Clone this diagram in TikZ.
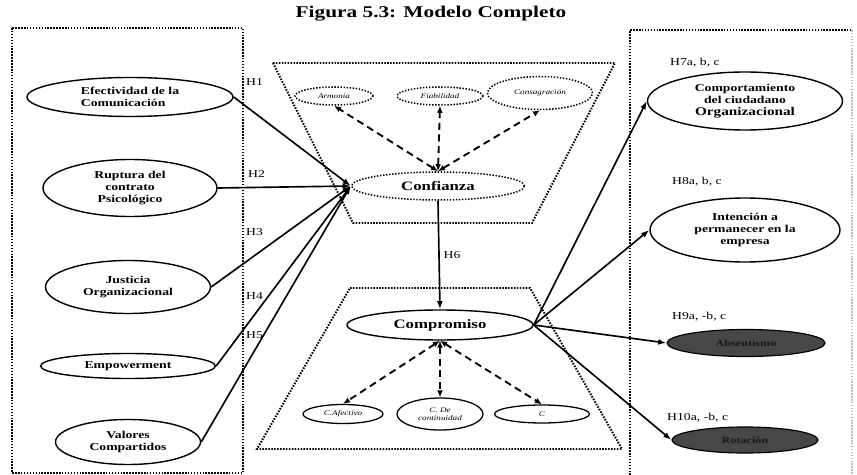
\documentclass[tikz,border=0pt]{standalone}
\usepackage{fontspec}
\setmainfont{Liberation Serif}[FakeStretch=1.3]
\usetikzlibrary{shapes.geometric,arrows.meta}
\begin{document}
\begin{tikzpicture}[x=0.3mm,y=-0.3mm,
  latent/.style={draw,ellipse,line width=1.2pt,inner sep=0pt,align=center,font=\bfseries\fontsize{9}{10}\selectfont},
  bigvar/.style={draw,ellipse,line width=1.2pt,inner sep=0pt,font=\bfseries\fontsize{11}{13}\selectfont},
  facet/.style={draw,ellipse,line width=1.1pt,inner sep=0pt,align=center,font=\itshape\fontsize{6}{7}\selectfont},
  dotline/.style={line width=1.7pt,dash pattern=on 1.3pt off 1.2pt},
  dotell/.style={line width=1.3pt,dash pattern=on 1.2pt off 1.4pt},
  outcome/.style={draw,ellipse,line width=1pt,fill=black!72,inner sep=0pt,font=\bfseries\fontsize{8}{9}\selectfont,text=black!90},
  hlabel/.style={anchor=west,inner sep=0pt,font=\fontsize{9}{10}\selectfont},
  hyparrow/.style={->,>={Latex[length=7pt,width=5pt]},line width=1.4pt},
  dimarrow/.style={<->,>={Latex[length=6pt,width=5pt]},line width=1.6pt,dash pattern=on 6pt off 4pt}]
\useasboundingbox (0,0) rectangle (857,475);
\node (T) at (431,14) {\bfseries\fontsize{14}{16}\selectfont Figura 5.3: Modelo Completo};
% groups
\draw[dotline] (12,28) rectangle (243,473);
\draw[dotline] (630,475) -- (630,30) -- (852,30);
\draw[dotline,black!25] (852,30) -- (852,475);
\draw[dotline] (273,63) -- (615,63) -- (532,223) -- (353,223) -- cycle;
\draw[dotline] (350,288) -- (530,288) -- (622,449) -- (257,449) -- cycle;
% antecedentes
\node[latent,align=left,minimum width=61.8mm,minimum height=11.7mm] (EC) at (130,97) {Efectividad de la\\Comunicación};
\node[latent,minimum width=52.2mm,minimum height=17.1mm] (RC) at (130,188) {Ruptura del\\contrato\\Psicológico};
\node[latent,minimum width=49.5mm,minimum height=15.9mm] (JO) at (128,287) {Justicia\\Organizacional};
\node[latent,minimum width=52.5mm,minimum height=7.5mm] (EM) at (128,366) {Empowerment};
\node[latent,minimum width=43.5mm,minimum height=13.5mm] (VC) at (128,442) {Valores\\Compartidos};
\node[hlabel] (H1) at (246,82) {H1};
\node[hlabel] (H2) at (248,174) {H2};
\node[hlabel] (H3) at (246,232) {H3};
\node[hlabel] (H4) at (246,296) {H4};
\node[hlabel] (H5) at (246,335) {H5};
% confianza
\node[bigvar,dotell,minimum width=51.9mm,minimum height=8.4mm] (CF) at (438,186) {Confianza};
\node[facet,dotell,minimum width=23.4mm,minimum height=5.4mm] (AR) at (334,96) {Armonia};
\node[facet,dotell,minimum width=25.8mm,minimum height=5.4mm] (FI) at (440,96) {Fiabilidad};
\node[facet,dotell,minimum width=31.5mm,minimum height=9.9mm] (CS) at (540,93) {Consagración};
\draw[dimarrow] (CF.north) -- (AR.south);
\draw[dimarrow] (CF.north) -- (FI.south);
\draw[dimarrow] (CF.north) -- (CS.south);
% compromiso
\node[bigvar,minimum width=55.8mm,minimum height=9mm] (CP) at (440,325) {Compromiso};
\node[facet,minimum width=24mm,minimum height=5.7mm] (CA) at (343,414) {C.Afectivo};
\node[facet,minimum width=25.8mm,minimum height=9.6mm] (CD) at (440,414) {C. De\\continuidad};
\node[facet,minimum width=28.5mm,minimum height=5.4mm] (CN) at (542,414) {C};
\draw[dimarrow] (CP.south) -- (CA.north);
\draw[dimarrow] (CP.south) -- (CD.north);
\draw[dimarrow] (CP.south) -- (CN.north);
\draw[hyparrow] (CF.south) -- node[right,font=\fontsize{9}{10}\selectfont]{H6} (CP.north);
% consecuentes
\node[latent,minimum width=58.5mm,minimum height=17.4mm] (CO) at (745,101) {Comportamiento\\del ciudadano\\{\fontsize{10}{11}\selectfont Organizacional}};
\node[latent,minimum width=57mm,minimum height=19.2mm] (IP) at (745,230) {Intención a\\permanecer en la\\empresa};
\node[outcome,minimum width=47.4mm,minimum height=8.1mm] (AB) at (746,343) {Absentismo};
\node[outcome,minimum width=43.8mm,minimum height=7.8mm] (RO) at (745,440) {Rotación};
\node[hlabel] (H7) at (670,63) {H7a, b, c};
\node[hlabel] (H8) at (672,182) {H8a, b, c};
\node[hlabel] (H9) at (672,317) {H9a, -b, c};
\node[hlabel] (H10) at (667,418) {H10a, -b, c};
% hipotesis
\draw[hyparrow] (EC.east) -- (CF.west);
\draw[hyparrow] (RC.east) -- (CF.west);
\draw[hyparrow] (JO.east) -- (CF.west);
\draw[hyparrow] (EM.east) -- (CF.west);
\draw[hyparrow] (VC.east) -- (CF.west);
\draw[hyparrow] (CP.east) -- (CO.west);
\draw[hyparrow] (CP.east) -- (IP.west);
\draw[hyparrow] (CP.east) -- (AB.west);
\draw[hyparrow] (CP.east) -- (RO.west);
\end{tikzpicture}
\end{document}
